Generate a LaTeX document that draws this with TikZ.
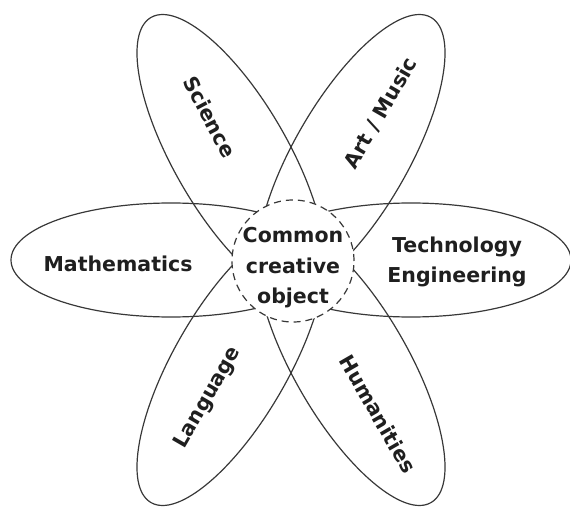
\documentclass[tikz,border=0pt]{standalone}
\usepackage{fontspec}
\setmainfont{DejaVu Sans}
\begin{document}
\begin{tikzpicture}[x=1pt,y=-1pt,
  petal/.style={draw=black!78, line width=1.2pt},
  lbl/.style={font=\bfseries\fontsize{20.5}{30.5}\selectfont, text=black!88, inner sep=0pt, align=center}]
\useasboundingbox (0,0) rectangle (570,508);
% petals
\draw[petal] (171,260) ellipse [x radius=160, y radius=57];
\draw[petal] (411,260) ellipse [x radius=160, y radius=57];
\draw[petal, rotate around={120:(231,156)}] (231,156) ellipse [x radius=160, y radius=57];
\draw[petal, rotate around={60:(351,156)}] (351,156) ellipse [x radius=160, y radius=57];
\draw[petal, rotate around={60:(231,364)}] (231,364) ellipse [x radius=160, y radius=57];
\draw[petal, rotate around={120:(351,364)}] (351,364) ellipse [x radius=160, y radius=57];
% core
\node[circle, draw=black!78, line width=1.2pt, dash pattern=on 7pt off 5pt, fill=white, minimum size=122pt, inner sep=0pt] (core) at (293,261) {};
\node[lbl] (coretext) at (293,268) {Common\\creative\\object};
% labels
\node[lbl] (math) at (118,264) {Mathematics};
\node[lbl] (tech) at (457,262) {Technology\\Engineering};
\node[lbl, rotate=-62] (sci) at (210,117) {Science};
\node[lbl, rotate=60] (art) at (381,113) {Art / Music};
\node[lbl, rotate=60] (lang) at (208,398) {Language};
\node[lbl, rotate=-60] (hum) at (378,414) {Humanities};
\end{tikzpicture}
\end{document}
